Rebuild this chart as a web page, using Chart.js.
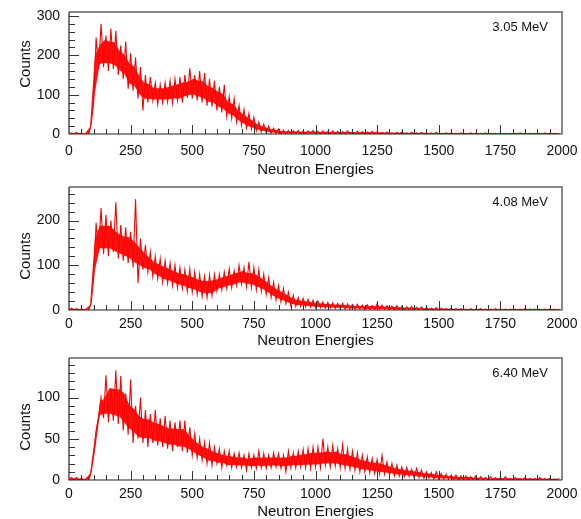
<!DOCTYPE html>
<html>
<head>
<meta charset="utf-8">
<script src="https://cdn.jsdelivr.net/npm/chart.js@4.4.1/dist/chart.umd.min.js"></script>
<style>
  body { margin: 0; background: #fff; width: 581px; height: 519px; overflow: hidden; position: relative; }
  canvas { position: absolute; left: 0; }
</style>
</head>
<body>
<canvas id="c1" width="581" height="180" style="top:0px"></canvas>
<canvas id="c2" width="581" height="174" style="top:176px"></canvas>
<canvas id="c3" width="581" height="175" style="top:346px"></canvas>
<script>
// channel bins (neutron energy), 20 wide; low edge of the noise band read at the bin start,
// high edge read at bin start + 10
const binStarts = [
  0, 20, 40, 60, 80, 100, 120, 140, 160, 180, 200, 220, 240, 260, 280, 300, 320, 340, 360, 380,
  400, 420, 440, 460, 480, 500, 520, 540, 560, 580, 600, 620, 640, 660, 680, 700, 720, 740, 760, 780,
  800, 820, 840, 860, 880, 900, 920, 940, 960, 980, 1000, 1020, 1040, 1060, 1080, 1100, 1120, 1140, 1160, 1180,
  1200, 1220, 1240, 1260, 1280, 1300, 1320, 1340, 1360, 1380, 1400, 1420, 1440, 1460, 1480, 1500, 1520, 1540, 1560, 1580,
  1600, 1620, 1640, 1660, 1680, 1700, 1720, 1740, 1760, 1780, 1800, 1820, 1840, 1860, 1880, 1900, 1920, 1940, 1960, 1980
];

// 3.05 MeV
const lo305 = [
  0, 0, 0, 0, 0, 80, 165, 170, 160, 165, 150, 140, 115, 110, 90, 60, 80, 85, 75, 80,
  82, 78, 85, 80, 92, 90, 85, 80, 72, 70, 60, 55, 45, 40, 30, 22, 15, 12, 8, 5,
  3, 2, 1, 0, 0, 0, 1, 0, 0, 1, 0, 0, 1, 0, 0, 0, 1, 0, 0, 0,
  0, 0, 0, 0, 0, 0, 0, 0, 0, 0, 0, 0, 0, 0, 0, 0, 0, 0, 0, 0,
  0, 0, 0, 0, 0, 0, 0, 0, 0, 0, 0, 0, 0, 0, 0, 0, 0, 0, 0, 0
];
const hi305 = [
  3, 4, 2, 0, 25, 245, 280, 250, 268, 262, 225, 235, 205, 195, 170, 150, 145, 130, 125, 130,
  135, 140, 145, 150, 167, 150, 160, 155, 140, 135, 120, 125, 95, 90, 72, 62, 52, 42, 30, 25,
  20, 15, 13, 10, 9, 8, 9, 7, 8, 9, 7, 8, 6, 8, 7, 6, 8, 5, 7, 6,
  5, 7, 6, 4, 5, 3, 4, 5, 3, 4, 3, 4, 3, 3, 4, 2, 3, 3, 2, 3,
  2, 3, 2, 2, 3, 2, 2, 3, 2, 2, 2, 3, 2, 2, 2, 2, 3, 2, 2, 2
];

// 4.08 MeV
const lo408 = [
  0, 0, 0, 0, 0, 70, 130, 125, 120, 130, 115, 110, 105, 95, 60, 90, 85, 75, 70, 62,
  60, 55, 50, 48, 42, 40, 35, 30, 28, 32, 42, 45, 48, 50, 55, 58, 52, 50, 45, 42,
  35, 28, 22, 18, 14, 10, 8, 8, 7, 6, 5, 5, 4, 4, 3, 3, 2, 2, 2, 2,
  1, 1, 1, 1, 1, 0, 0, 0, 0, 0, 0, 0, 0, 0, 0, 0, 0, 0, 0, 0,
  0, 0, 0, 0, 0, 0, 0, 0, 0, 0, 0, 0, 0, 0, 0, 0, 0, 0, 0, 0
];
const hi408 = [
  4, 3, 2, 0, 15, 195, 228, 213, 200, 241, 190, 185, 175, 248, 160, 145, 130, 120, 115, 110,
  105, 100, 95, 90, 92, 85, 80, 75, 78, 80, 80, 85, 92, 88, 100, 95, 108, 95, 90, 80,
  72, 62, 55, 48, 40, 33, 28, 26, 24, 22, 20, 18, 17, 16, 15, 15, 14, 12, 13, 11,
  12, 10, 14, 11, 10, 9, 10, 8, 7, 8, 6, 7, 5, 4, 5, 4, 3, 4, 3, 3,
  2, 3, 2, 3, 2, 2, 3, 2, 2, 2, 2, 2, 3, 2, 2, 2, 2, 2, 2, 2
];

// 6.40 MeV
const lo640 = [
  0, 0, 0, 0, 0, 30, 75, 75, 70, 72, 68, 60, 55, 45, 50, 45, 40, 45, 42, 40,
  38, 35, 40, 35, 33, 30, 27, 24, 20, 18, 20, 15, 18, 15, 16, 15, 12, 15, 14, 15,
  14, 15, 16, 14, 10, 15, 15, 16, 15, 14, 16, 15, 18, 16, 17, 15, 14, 13, 12, 10,
  10, 9, 8, 7, 7, 6, 5, 5, 4, 4, 3, 3, 2, 2, 1, 1, 1, 1, 0, 0,
  0, 0, 0, 0, 0, 0, 0, 0, 0, 0, 0, 0, 0, 0, 0, 0, 0, 0, 0, 0
];
const hi640 = [
  3, 3, 2, 0, 10, 60, 100, 127, 110, 133, 126, 105, 122, 90, 100, 85, 80, 85, 75, 78,
  72, 70, 72, 72, 64, 56, 50, 46, 45, 40, 38, 35, 35, 32, 33, 30, 32, 30, 35, 32,
  30, 33, 32, 30, 35, 33, 35, 37, 38, 40, 40, 50, 40, 42, 38, 43, 38, 35, 33, 30,
  28, 26, 25, 30, 22, 20, 18, 16, 15, 13, 14, 12, 10, 9, 10, 8, 7, 6, 6, 5,
  5, 4, 5, 4, 3, 4, 3, 3, 4, 2, 3, 2, 3, 2, 2, 3, 2, 2, 1, 2
];

const xTicks = [0, 250, 500, 750, 1000, 1250, 1500, 1750, 2000];
const yTicks305 = [0, 100, 200, 300];
const yTicks408 = [0, 100, 200];
const yTicks640 = [0, 50, 100];
const FONT = '"Liberation Sans", Arial, sans-serif';

const panels = [
  { id: 'c1', label: '3.05 MeV', lo: lo305, hi: hi305, yTicks: yTicks305, yMax: 310, yStep: 100, yMinor: 20, padTop: 12, xHeight: 46, tickPad: 9, titlePad: 1, countsY: 64 },
  { id: 'c2', label: '4.08 MeV', lo: lo408, hi: hi408, yTicks: yTicks408, yMax: 275, yStep: 100, yMinor: 20, padTop: 11, xHeight: 40, tickPad: 6, titlePad: 0, countsY: 80 },
  { id: 'c3', label: '6.40 MeV', lo: lo640, hi: hi640, yTicks: yTicks640, yMax: 148, yStep: 50, yMinor: 10, padTop: 12, xHeight: 41, tickPad: 6, titlePad: 0, countsY: 81 }
];

// each bin gives two points: low edge then high edge, so the line zig-zags through the band
function bandPoints(lo, hi) {
  const pts = [];
  binStarts.forEach((e, i) => {
    pts.push({ x: e, y: lo[i] });
    pts.push({ x: e + 10, y: hi[i] });
  });
  return pts;
}

function med3(arr, i) {
  const n = [arr[Math.max(i - 1, 0)], arr[i], arr[Math.min(i + 1, arr.length - 1)]].sort((a, b) => a - b);
  return n[1];
}

// dense core of the band, a fraction f of the way from low to high edge (spikes left to the line)
function core(lo, hi, f) {
  return binStarts.map((e, i) => {
    const l = med3(lo, i), h = med3(hi, i);
    return { x: e + 5, y: l + f * (h - l) };
  });
}

// inward tick marks, frame, energy label and y title
const framePlugin = {
  id: 'frame',
  afterDatasetsDraw(chart, args, opts) {
    const { ctx, chartArea: a, scales: { x, y } } = chart;
    ctx.save();
    ctx.strokeStyle = '#333';
    ctx.lineWidth = 1;
    ctx.beginPath();
    for (let v = 50; v < 2000; v += 50) {
      const px = Math.round(x.getPixelForValue(v)) + 0.5;
      const len = v % 250 === 0 ? 9 : 5;
      ctx.moveTo(px, a.bottom);
      ctx.lineTo(px, a.bottom - len);
    }
    for (let v = opts.minor; v < y.max; v += opts.minor) {
      const py = Math.round(y.getPixelForValue(v)) + 0.5;
      const len = v % opts.major === 0 ? 10 : 6;
      ctx.moveTo(a.left, py);
      ctx.lineTo(a.left + len, py);
    }
    ctx.stroke();

    // grey top / right
    ctx.strokeStyle = '#888';
    ctx.lineWidth = 2;
    ctx.beginPath();
    ctx.moveTo(a.left, a.top);
    ctx.lineTo(a.right, a.top);
    ctx.lineTo(a.right, a.bottom);
    ctx.stroke();
    // dark left / bottom
    ctx.strokeStyle = '#222';
    ctx.lineWidth = 1.2;
    ctx.beginPath();
    ctx.moveTo(a.left, a.top);
    ctx.lineTo(a.left, a.bottom);
    ctx.lineTo(a.right, a.bottom);
    ctx.stroke();

    ctx.fillStyle = '#111';
    ctx.font = '13px ' + FONT;
    ctx.textAlign = 'right';
    ctx.textBaseline = 'middle';
    ctx.fillText(opts.label, a.right - 14, a.top + 15);

    ctx.translate(26, opts.countsY);
    ctx.rotate(-Math.PI / 2);
    ctx.font = '15px ' + FONT;
    ctx.textAlign = 'center';
    ctx.fillText('Counts', 0, 0);
    ctx.restore();
  }
};

panels.forEach(p => {
  new Chart(document.getElementById(p.id), {
    type: 'line',
    data: {
      datasets: [
        { data: core(p.lo, p.hi, 0.15), borderWidth: 0, pointRadius: 0, tension: 0, fill: false },
        { data: core(p.lo, p.hi, 0.72), borderWidth: 0, pointRadius: 0, tension: 0, fill: '-1', backgroundColor: 'rgba(255,0,0,0.92)' },
        { data: bandPoints(p.lo, p.hi), borderColor: '#ff0000', borderWidth: 1.1, pointRadius: 0, tension: 0, fill: false }
      ]
    },
    options: {
      responsive: false,
      animation: false,
      events: [],
      layout: { padding: { top: p.padTop, right: 19, left: 0, bottom: 0 } },
      plugins: {
        legend: { display: false },
        tooltip: { enabled: false },
        frame: { label: p.label, minor: p.yMinor, major: p.yStep, countsY: p.countsY }
      },
      scales: {
        x: {
          type: 'linear',
          min: 0,
          max: 2000,
          grid: { display: false, drawTicks: false },
          border: { display: false },
          afterBuildTicks: s => { s.ticks = xTicks.map(v => ({ value: v })); },
          ticks: { autoSkip: false, maxRotation: 0, padding: p.tickPad, color: '#111', font: { family: FONT, size: 14 }, callback: v => String(v) },
          title: { display: true, text: 'Neutron Energies', color: '#111', font: { family: FONT, size: 15 }, padding: { top: 0, bottom: p.titlePad } },
          afterFit: s => { s.height = p.xHeight; s.paddingLeft = 0; s.paddingRight = 0; }
        },
        y: {
          min: 0,
          max: p.yMax,
          grid: { display: false, drawTicks: false },
          border: { display: false },
          afterBuildTicks: s => { s.ticks = p.yTicks.map(v => ({ value: v })); },
          ticks: { padding: 9, color: '#111', font: { family: FONT, size: 14 }, callback: v => String(v) },
          afterFit: s => { s.width = 69; s.paddingTop = 0; s.paddingBottom = 0; }
        }
      }
    },
    plugins: [framePlugin]
  });
});
</script>
</body>
</html>
